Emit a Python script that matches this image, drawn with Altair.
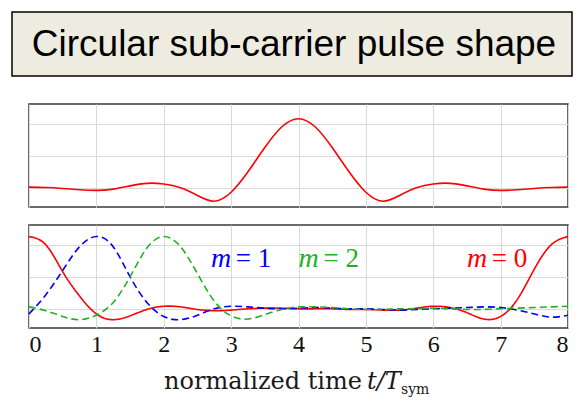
import altair as alt
import pandas as pd

# ---- data ----
T = [0, 0.25, 0.5, 0.75, 1, 1.25, 1.5, 1.75, 2, 2.25, 2.5, 2.75, 3, 3.25, 3.5, 3.75,
     4, 4.25, 4.5, 4.75, 5, 5.25, 5.5, 5.75, 6, 6.25, 6.5, 6.75, 7, 7.25, 7.5, 7.75, 8]

TOP_PULSE = [0.01, 0.005, -0.01, -0.03, -0.04, -0.02, 0.03, 0.07, 0.06, 0.0, -0.12, -0.21,
             -0.07, 0.25, 0.63, 0.95, 1.08, 0.95, 0.63, 0.25, -0.07, -0.21, -0.12, 0.0,
             0.06, 0.07, 0.03, -0.02, -0.04, -0.03, -0.01, 0.005, 0.01]

M0 = [1.13, 1.0, 0.58, 0.2, -0.08, -0.17, -0.11, -0.01, 0.04, 0.03, -0.01, -0.03, -0.02,
      0.0, 0.01, 0.01, 0.0, 0.0, 0.0, -0.01, -0.01, -0.02, -0.02, 0.01, 0.04, 0.02, -0.06,
      -0.16, -0.12, 0.15, 0.62, 1.0, 1.13]

M1 = [-0.08, 0.22, 0.6, 0.97, 1.13, 0.97, 0.5, 0.1, -0.12, -0.17, -0.1, 0.0, 0.04, 0.03,
      0.01, 0.0, 0.01, 0.02, 0.01, 0.0, 0.0, -0.01, -0.02, -0.01, 0.0, 0.01, 0.02, 0.03,
      0.02, -0.02, -0.08, -0.13, -0.1]

M2 = [0.03, -0.03, -0.12, -0.17, -0.1, 0.1, 0.5, 0.95, 1.13, 0.97, 0.55, 0.12, -0.11,
      -0.16, -0.09, -0.01, 0.03, 0.03, 0.02, 0.0, -0.01, -0.01, 0.0, 0.0, 0.01, 0.0, -0.01,
      -0.01, 0.0, 0.01, 0.02, 0.03, 0.04]

SERIES = ["m0", "m1", "m2"]
COLORS = ["#FF0000", "#0000FF", "#22B022"]
DASHES = [[1, 0], [7, 4], [7, 4]]

LABEL_SERIES = ["m1", "m2", "m0"]
LABEL_M_X = [2.85, 4.15, 6.65]
LABEL_REST_X = [3.07, 4.37, 6.87]
LABEL_REST = ["= 1", "= 2", "= 0"]
LABEL_Y = [0.78, 0.78, 0.78]

X_TICKS = [0, 1, 2, 3, 4, 5, 6, 7, 8]
Y_GRID = [0, 0.5, 1]
Y_DOMAIN = [-0.3, 1.31]

TITLE = "Circular sub-carrier pulse shape"
XTITLE_MAIN = "normalized time"
XTITLE_VAR = "t/T"
XTITLE_SUB = "sym"

W, H = 539, 103

# ---- tables ----
top_df = pd.DataFrame({"t": T, "v": TOP_PULSE})
long_rows = []
for name, vals in zip(SERIES, [M0, M1, M2]):
    for tt, vv in zip(T, vals):
        long_rows.append({"t": tt, "v": vv, "series": name})
bot_df = pd.DataFrame(long_rows)
lab_df = pd.DataFrame({"series": LABEL_SERIES, "mx": LABEL_M_X, "rx": LABEL_REST_X,
                       "rest": LABEL_REST, "y": LABEL_Y})

xscale = alt.Scale(domain=[0, 8], nice=False, zero=False)
yscale = alt.Scale(domain=Y_DOMAIN, nice=False, zero=False)
cscale = alt.Scale(domain=SERIES, range=COLORS)
dscale = alt.Scale(domain=SERIES, range=DASHES)

GRID_COLOR = "#D9D9D9"
grid_x_noaxis = alt.Axis(values=X_TICKS, labels=False, ticks=False, domain=False, title=None,
                         grid=True, gridColor=GRID_COLOR, gridWidth=1)
grid_y = alt.Axis(values=Y_GRID, labels=False, ticks=False, domain=False, title=None,
                  grid=True, gridColor=GRID_COLOR, gridWidth=1)
x_axis_bottom = alt.Axis(values=X_TICKS, labels=True, ticks=False, domain=False, title=None,
                         grid=True, gridColor=GRID_COLOR, gridWidth=1, format="d",
                         labelFont="Liberation Serif", labelFontSize=24, labelColor="#111111",
                         labelPadding=4)

# ---- title box ----
one = pd.DataFrame({"txt": [TITLE]})
title_box = alt.Chart(one).mark_rect(fill="#EEECE1", stroke="#000000", strokeWidth=1.5).encode(
    x=alt.value(-17), x2=alt.value(543), y=alt.value(0), y2=alt.value(64))
title_txt = alt.Chart(one).mark_text(font="Liberation Sans", fontSize=37, color="#000000",
                                     align="center", baseline="middle").encode(
    x=alt.value(265), y=alt.value(33), text="txt:N")
title_chart = alt.layer(title_box, title_txt).properties(
    width=W, height=64, view=alt.ViewBackground(stroke="transparent"))

# ---- top panel ----
top_chart = alt.Chart(top_df).mark_line(color="#FF0000", strokeWidth=1.6, interpolate="natural").encode(
    x=alt.X("t:Q", scale=xscale, axis=grid_x_noaxis),
    y=alt.Y("v:Q", scale=yscale, axis=grid_y),
).properties(width=W, height=H)

# ---- bottom panel ----
lines = alt.Chart(bot_df).mark_line(strokeWidth=1.6, interpolate="natural").encode(
    x=alt.X("t:Q", scale=xscale, axis=x_axis_bottom),
    y=alt.Y("v:Q", scale=yscale, axis=grid_y),
    color=alt.Color("series:N", scale=cscale, legend=None),
    strokeDash=alt.StrokeDash("series:N", scale=dscale, legend=None),
    detail="series:N",
)
lab_m = alt.Chart(lab_df).mark_text(font="Liberation Serif", fontStyle="italic", fontSize=28,
                                    align="center", baseline="middle").encode(
    x=alt.X("mx:Q", scale=xscale), y=alt.Y("y:Q", scale=yscale),
    text=alt.value("m"), color=alt.Color("series:N", scale=cscale, legend=None))
lab_r = alt.Chart(lab_df).mark_text(font="Liberation Serif", fontSize=27,
                                    align="left", baseline="middle").encode(
    x=alt.X("rx:Q", scale=xscale), y=alt.Y("y:Q", scale=yscale),
    text="rest:N", color=alt.Color("series:N", scale=cscale, legend=None))

xt = pd.DataFrame({"a": [XTITLE_MAIN], "b": [XTITLE_VAR], "c": [XTITLE_SUB]})
xt1 = alt.Chart(xt).mark_text(font="DejaVu Serif", fontSize=24, color="#1A1A1A",
                              align="right", baseline="alphabetic").encode(
    x=alt.value(333), y=alt.value(164), text="a:N")
xt2 = alt.Chart(xt).mark_text(font="DejaVu Serif", fontStyle="italic", fontSize=24,
                              color="#1A1A1A", align="left", baseline="alphabetic").encode(
    x=alt.value(338), y=alt.value(164), text="b:N")
xt3 = alt.Chart(xt).mark_text(font="DejaVu Serif", fontSize=14, color="#1A1A1A",
                              align="left", baseline="alphabetic").encode(
    x=alt.value(372), y=alt.value(169), text="c:N")

bottom_chart = alt.layer(lines, lab_m, lab_r, xt1, xt2, xt3).properties(width=W, height=H)

chart = alt.vconcat(
    title_chart,
    alt.vconcat(top_chart, bottom_chart, spacing=16),
    spacing=25,
).properties(
    padding={"left": 2, "top": 2, "right": 0, "bottom": 0},
    background="white",
).configure_view(
    stroke="#3A3A3A", strokeWidth=1.5
)

chart.save("out.html", embed_options={"renderer": "svg", "actions": False})
